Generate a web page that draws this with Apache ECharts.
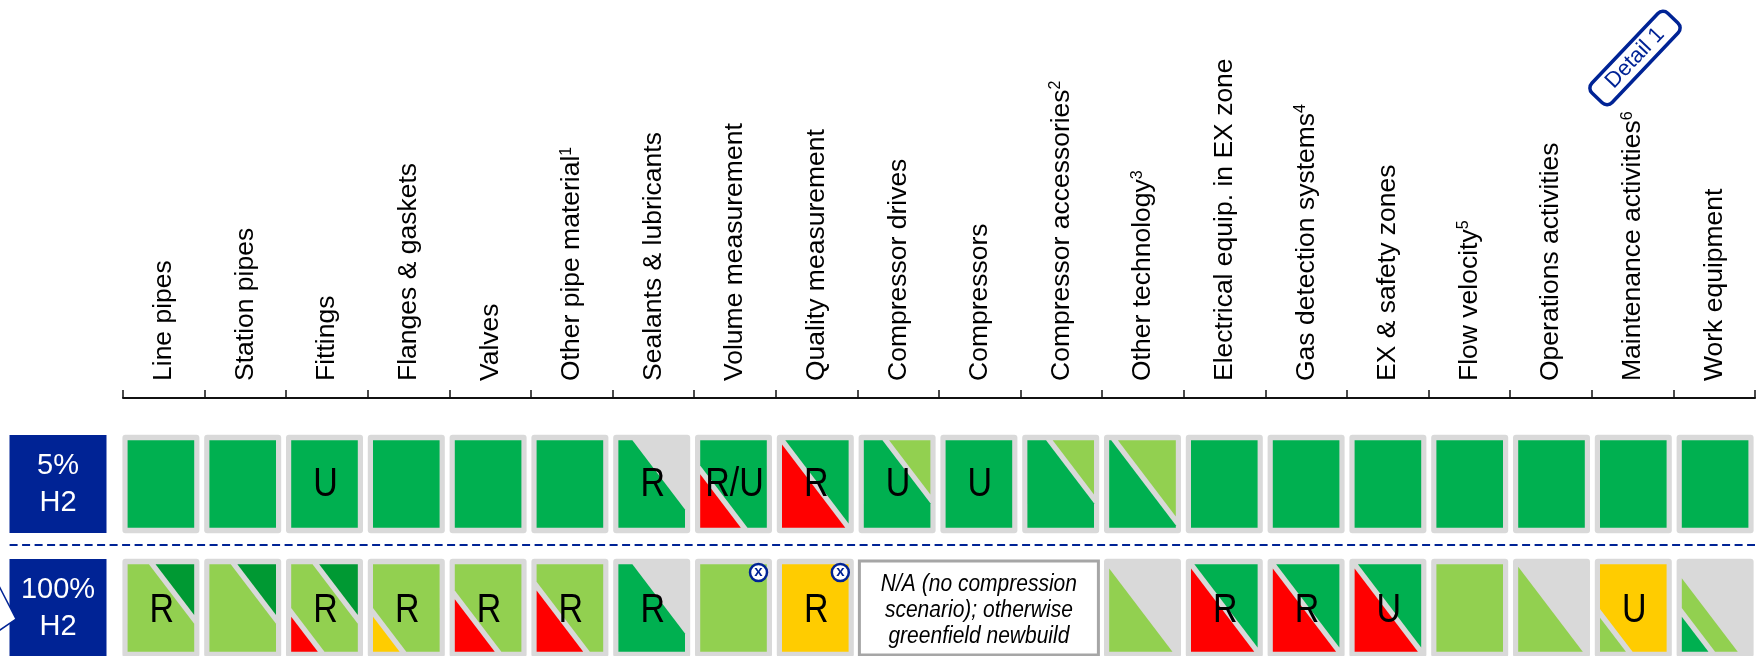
<!DOCTYPE html>
<html>
<head>
<meta charset="utf-8">
<title>H2 readiness</title>
<style>
  html, body { margin: 0; padding: 0; background: #fff; }
  #chart { width: 1758px; height: 656px; }
</style>
<script src="https://cdn.jsdelivr.net/npm/echarts@6/dist/echarts.min.js"></script>
</head>
<body>
<div id="chart"></div>
<script>
const categories = ['Line pipes', 'Station pipes', 'Fittings', 'Flanges & gaskets', 'Valves',
  'Other pipe material', 'Sealants & lubricants', 'Volume measurement', 'Quality measurement',
  'Compressor drives', 'Compressors', 'Compressor accessories', 'Other technology',
  'Electrical equip. in EX zone', 'Gas detection systems', 'EX & safety zones', 'Flow velocity',
  'Operations activities', 'Maintenance activities', 'Work equipment']
const footnotes = ['', '', '', '', '', '1', '', '', '', '', '', '2', '3', '', '4', '', '5', '', '6', '']
const rowLabels = ['5%\nH2', '100%\nH2']

// G green, L light green, D dark green, R red, Y yellow, '' nothing (grey shows through)
const fill5 = ['G', 'G', 'G', 'G', 'G', 'G', 'G', 'G', 'G', 'G', 'G', 'G', 'G', 'G', 'G', 'G', 'G', 'G', 'G', 'G']
const top5 = ['', '', '', '', '', '', '', '', '', 'L', '', 'L', 'L', '', '', '', '', '', '', '']
const bottom5 = ['', '', '', '', '', '', '', 'R', 'R', '', '', '', '', '', '', '', '', '', '', '']
const topCut5 = [null, null, null, null, null, null, 0.26, null, null, 0.33, null, 0.33, 0.08, null, null, null, null, null, null, null]
const bottomCut5 = [null, null, null, null, null, null, null, -0.34, 0, null, null, null, null, null, null, null, null, null, null, null]
const letters5 = ['', '', 'U', '', '', '', 'R', 'R/U', 'R', 'U', 'U', '', '', '', '', '', '', '', '', '']

const fill100 = ['L', 'L', 'L', 'L', 'L', 'L', 'G', 'L', 'Y', null, null, null, '', 'G', 'G', 'G', 'L', '', 'Y', 'L']
const top100 = ['D', 'D', 'D', '', '', '', '', '', '', '', '', '', '', '', '', '', '', '', '', '']
const bottom100 = ['', '', 'R', 'Y', 'R', 'R', '', '', '', '', '', '', 'L', 'R', 'R', 'R', '', 'L', 'L', 'G']
const topCut100 = [0.37, 0.37, 0.37, null, null, null, 0.26, null, null, null, null, null, null, null, null, null, null, null, null, -0.11]
const bottomCut100 = [null, null, -0.55, -0.55, -0.35, -0.25, null, null, null, null, null, null, 0, 0, 0, 0, null, 0.02, -0.56, -0.55]
const letters100 = ['R', '', 'R', 'R', 'R', 'R', 'R', '', 'R', '', '', '', '', 'R', 'R', 'U', '', '', 'U', '']
const flags100 = [7, 8]
const noteText = 'N/A (no compression\nscenario); otherwise\ngreenfield newbuild'
const noteCategory = 10
const badgeText = 'Detail 1'

const colors = { G: '#00B050', L: '#92D050', D: '#009933', R: '#FF0000', Y: '#FFCC00' }
const navy = '#002395'
const grey = '#D9D9D9'
const fontName = '"Liberation Sans", Arial, sans-serif'
const gap = 0.1

// cut a polygon (unit cell coordinates) with the half plane side * (u - v - k) >= 0
function clip(poly, side, k) {
  let out = []
  poly.forEach(function (p, i) {
    let q = poly[(i + 1) % poly.length]
    let a = side * (p[0] - p[1] - k)
    let b = side * (q[0] - q[1] - k)
    if (a >= 0) out.push(p)
    if ((a >= 0) !== (b >= 0)) {
      let t = a / (a - b)
      out.push([p[0] + (q[0] - p[0]) * t, p[1] + (q[1] - p[1]) * t])
    }
  })
  return out
}

const square = [[0, 0], [1, 0], [1, 1], [0, 1]]

function renderCell(params, api) {
  let col = api.value(0)
  let row = api.value(1)
  let c = api.coord([col, row])
  let w = 77
  let h = 98.6
  let ix = 66.6
  let iy = 87.6
  let x0 = c[0] - ix / 2
  let y0 = c[1] - iy / 2
  let fill = row === 0 ? fill5[col] : fill100[col]
  let top = row === 0 ? top5[col] : top100[col]
  let bottom = row === 0 ? bottom5[col] : bottom100[col]
  let kTop = row === 0 ? topCut5[col] : topCut100[col]
  let kBottom = row === 0 ? bottomCut5[col] : bottomCut100[col]
  let letter = row === 0 ? letters5[col] : letters100[col]
  if (fill === null) return
  let children = [{
    type: 'rect',
    shape: { x: c[0] - w / 2, y: c[1] - h / 2, width: w, height: h, r: 3 },
    style: { fill: grey }
  }]
  function poly(points, color) {
    if (!color || points.length < 3) return
    children.push({
      type: 'polygon',
      shape: { points: points.map(function (p) { return [x0 + p[0] * ix, y0 + p[1] * iy] }) },
      style: { fill: colors[color] }
    })
  }
  let main = square
  if (kTop !== null) {
    main = clip(main, -1, kTop - gap / 2)
    poly(clip(square, 1, kTop + gap / 2), top)
  }
  if (kBottom !== null) {
    main = clip(main, 1, kBottom + gap / 2)
    poly(clip(square, -1, kBottom - gap / 2), bottom)
  }
  poly(main, fill)
  if (letter) {
    // the source picture is slightly stretched in height
    children.push({
      type: 'text',
      x: c[0] + 1,
      y: c[1] + (row === 0 ? 1 : 3),
      scaleY: 1.17,
      style: {
        text: letter, x: 0, y: 0, fill: '#000',
        font: '34px ' + fontName, textAlign: 'center', textVerticalAlign: 'middle'
      }
    })
  }
  if (row === 1 && flags100.indexOf(col) > -1) {
    children.push({
      type: 'circle',
      shape: { cx: c[0] + 25, cy: c[1] - 35.5, r: 8.5 },
      style: { fill: '#fff', stroke: navy, lineWidth: 2.5 }
    }, {
      type: 'text',
      style: {
        text: 'x', x: c[0] + 25, y: c[1] - 36, fill: navy,
        font: 'bold 15px ' + fontName, textAlign: 'center', textVerticalAlign: 'middle'
      }
    })
  }
  return { type: 'group', children: children }
}

function renderNote(params, api) {
  let c = api.coord([api.value(0), api.value(1)])
  return {
    type: 'group',
    children: [{
      type: 'rect',
      shape: { x: c[0] - 119.5, y: c[1] - 47, width: 239, height: 94 },
      style: { fill: '#fff', stroke: '#A6A6A6', lineWidth: 3 }
    }, {
      type: 'text',
      x: c[0],
      y: c[1] + 2.5,
      scaleY: 1.12,
      style: {
        text: noteText, x: 0, y: 0, fill: '#000', lineHeight: 23.5,
        font: 'italic 21px ' + fontName, textAlign: 'center', textVerticalAlign: 'middle'
      }
    }]
  }
}

const cells = []
categories.forEach(function (name, i) {
  cells.push([i, 0])
  cells.push([i, 1])
})

const myChart = echarts.init(document.getElementById('chart'))
myChart.setOption({
  animation: false,
  backgroundColor: '#fff',
  textStyle: { fontFamily: fontName },
  grid: [
    { left: 123, right: 3, top: 398, height: 10, outerBoundsMode: 'none' },
    { left: 120, right: 2, top: 422, height: 248, outerBoundsMode: 'none' }
  ],
  xAxis: [{
    type: 'category',
    gridIndex: 0,
    position: 'top',
    data: categories,
    axisLine: { onZero: false, lineStyle: { color: '#111', width: 2 } },
    axisTick: { show: true, length: 8, lineStyle: { color: '#111', width: 1.5 } },
    axisLabel: {
      interval: 0,
      rotate: -90,
      margin: 17,
      color: '#000',
      formatter: function (value, index) {
        return footnotes[index] ? '{a|' + value + '}{b|' + footnotes[index] + '}' : '{a|' + value + '}'
      },
      rich: {
        a: { fontSize: 26.5, fontFamily: fontName, color: '#000' },
        b: { fontSize: 16, fontFamily: fontName, color: '#000', verticalAlign: 'top' }
      }
    }
  }, {
    type: 'category',
    gridIndex: 1,
    data: categories,
    show: false
  }],
  yAxis: [{
    type: 'value',
    gridIndex: 0,
    show: false
  }, {
    type: 'category',
    gridIndex: 1,
    inverse: true,
    data: rowLabels,
    axisLine: { show: false },
    axisTick: { show: false },
    axisLabel: {
      margin: 62,
      width: 97,
      height: 91,
      padding: [7, 0, 0, 0],
      align: 'center',
      verticalAlign: 'middle',
      backgroundColor: navy,
      color: '#fff',
      fontSize: 29,
      lineHeight: 37,
      fontFamily: fontName
    }
  }],
  series: [{
    type: 'custom',
    xAxisIndex: 1,
    yAxisIndex: 1,
    data: cells,
    renderItem: renderCell,
    z: 2
  }, {
    type: 'custom',
    xAxisIndex: 1,
    yAxisIndex: 1,
    data: [[noteCategory, 1]],
    renderItem: renderNote,
    z: 3
  }],
  graphic: [{
    type: 'line',
    shape: { x1: 9.6, y1: 545, x2: 1755, y2: 545 },
    style: { stroke: navy, lineWidth: 2, lineDash: [8, 4.5] }
  }, {
    type: 'polygon',
    z: 10,
    shape: { points: [[-2, 584], [16, 619], [-2, 631.4]] },
    style: { fill: '#fff', stroke: navy, lineWidth: 1.5 }
  }, {
    type: 'group',
    x: 1635,
    y: 58,
    rotation: 46.5 * Math.PI / 180,
    children: [{
      type: 'rect',
      shape: { x: -55, y: -14, width: 110, height: 28, r: 7 },
      style: { fill: '#fff', stroke: navy, lineWidth: 3.5 }
    }, {
      type: 'text',
      style: {
        text: badgeText, x: 0, y: 0, fill: navy,
        font: '22px ' + fontName, textAlign: 'center', textVerticalAlign: 'middle'
      }
    }]
  }]
})
window.addEventListener('resize', function () {
  myChart.resize()
})
</script>
</body>
</html>
